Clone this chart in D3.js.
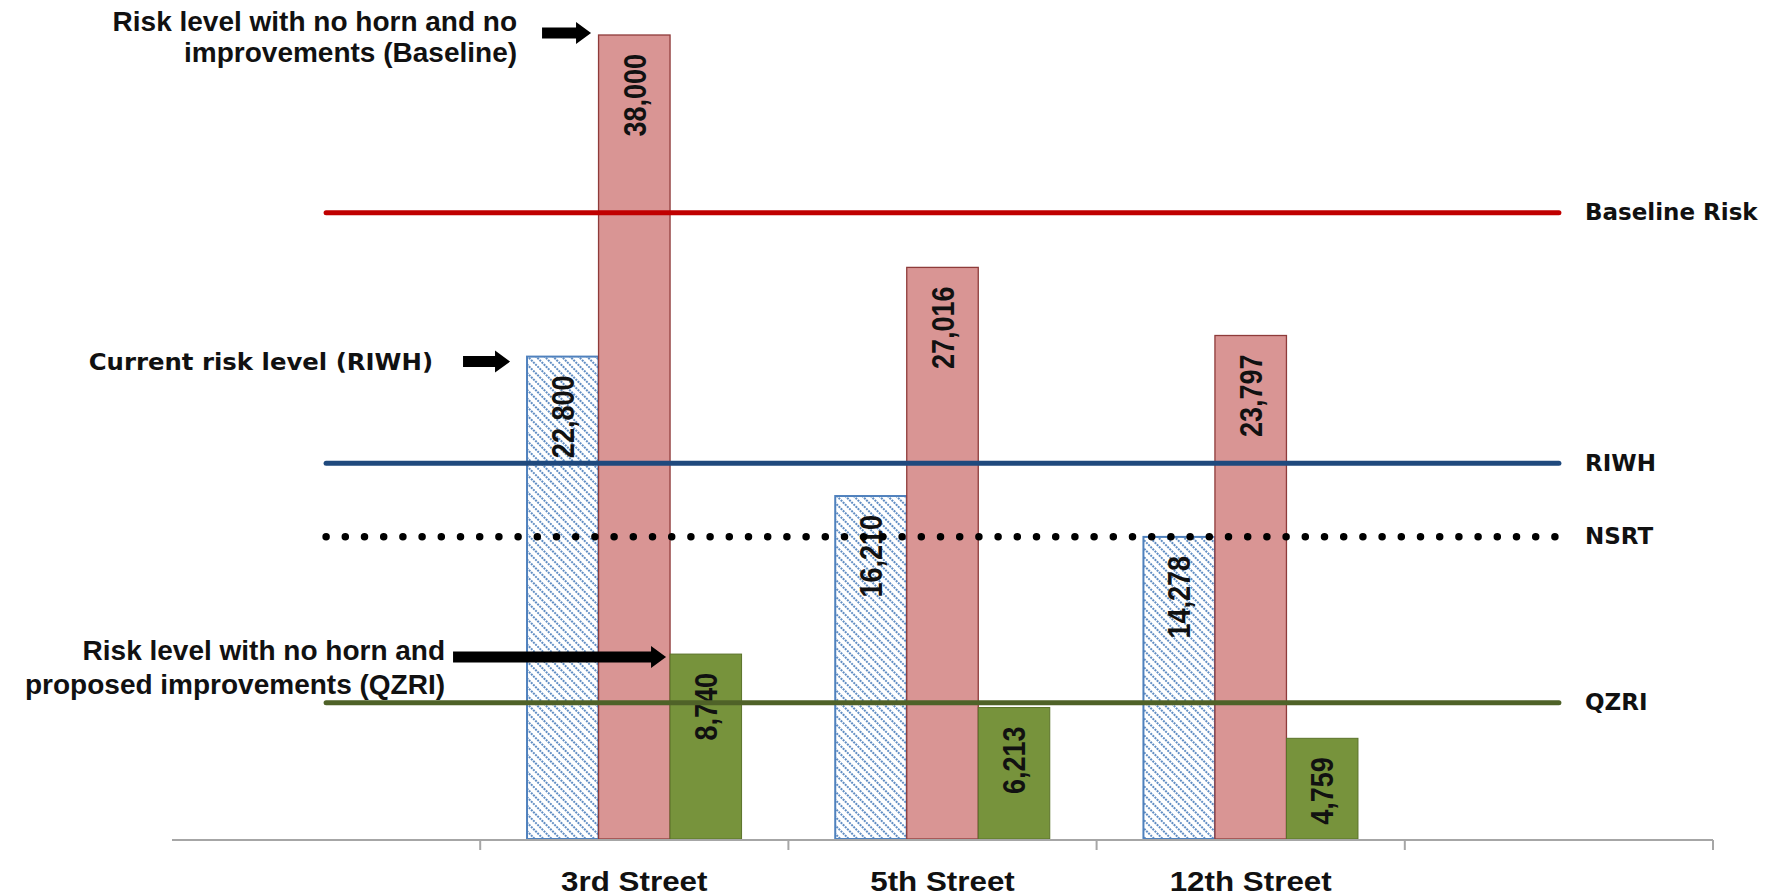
<!DOCTYPE html>
<html>
<head>
<meta charset="utf-8">
<script src="https://cdn.jsdelivr.net/npm/d3@7"></script>
<style>
  body { margin: 0; background: #fff; }
  .anno, .cat { font-family: "Liberation Sans", Arial, sans-serif; font-weight: bold; fill: #111; }
  .side { font-family: "DejaVu Sans", Verdana, sans-serif; font-weight: bold; fill: #111; }
  .val { font-family: "Liberation Sans", Arial, sans-serif; font-weight: bold; fill: #111; }
</style>
</head>
<body>
<div id="chart"></div>
<script>
// category slots; first and last are empty like in the sheet
const categories = ["", "3rd Street", "5th Street", "12th Street", ""];

// bar series (3rd, 5th, 12th street)
const riwhBars = [22800, 16210, 14278];
const baselineBars = [38000, 27016, 23797];
const qzriBars = [8740, 6213, 4759];

// reference lines, one value per category slot
const baselineRiskLine = [29600, 29600, 29600, 29600, 29600];
const riwhLine = [17760, 17760, 17760, 17760, 17760];
const nsrtLine = [14290, 14290, 14290, 14290, 14290];
const qzriLine = [6440, 6440, 6440, 6440, 6440];

const lineNames = ["Baseline Risk", "RIWH", "NSRT", "QZRI"];

const annoBaseline = ["Risk level with no horn and no", "improvements (Baseline)"];
const annoCurrent = ["Current risk level (RIWH)"];
const annoQzri = ["Risk level with no horn and", "proposed improvements (QZRI)"];

const W = 1767, H = 896;

const svg = d3.select("#chart").append("svg")
    .attr("width", W)
    .attr("height", H);

const defs = svg.append("defs");
const hatch = defs.append("pattern")
    .attr("id", "hatch")
    .attr("patternUnits", "userSpaceOnUse")
    .attr("width", 6)
    .attr("height", 6)
    .attr("patternTransform", "rotate(-45)");
hatch.append("rect").attr("width", 6).attr("height", 6).attr("fill", "#fff");
hatch.append("line")
    .attr("x1", 1).attr("y1", 0).attr("x2", 1).attr("y2", 6)
    .attr("stroke", "#4f81bd")
    .attr("stroke-width", 1.8)
    .attr("stroke-dasharray", "2,1");

// scales
const x0 = d3.scaleBand()
    .domain(d3.range(categories.length))
    .range([172, 1713])
    .padding(0);

const seriesKeys = ["riwh", "baseline", "qzri"];
const x1 = d3.scaleBand()
    .domain(seriesKeys)
    .range([0, x0.bandwidth()])
    .paddingInner(0)
    .paddingOuter(0.655);

const y = d3.scaleLinear()
    .domain([0, 38000])
    .range([839, 35]);

const seriesStyle = {
    riwh: {fill: "url(#hatch)", stroke: "#4f81bd", width: 2},
    baseline: {fill: "#d99594", stroke: "#8e3b3a", width: 1.3},
    qzri: {fill: "#77933c", stroke: "#5a7229", width: 1}
};
const seriesData = {riwh: riwhBars, baseline: baselineBars, qzri: qzriBars};

// bars
const rows = [];
[1, 2, 3].forEach((c, i) => {
    seriesKeys.forEach(k => rows.push({cat: c, key: k, value: seriesData[k][i]}));
});

svg.append("g").selectAll("rect")
    .data(rows)
    .enter()
    .append("rect")
    .attr("x", d => x0(d.cat) + x1(d.key))
    .attr("y", d => y(d.value))
    .attr("width", x1.bandwidth())
    .attr("height", d => y(0) - y(d.value))
    .attr("fill", d => seriesStyle[d.key].fill)
    .attr("stroke", d => seriesStyle[d.key].stroke)
    .attr("stroke-width", d => seriesStyle[d.key].width);

// value labels, rotated, inside the top of each bar
svg.append("g").selectAll("text")
    .data(rows)
    .enter()
    .append("text")
    .attr("class", "val")
    .attr("font-size", 27)
    .attr("text-anchor", "end")
    .attr("dy", "0.36em")
    .attr("transform", d => {
        let cx = x0(d.cat) + x1(d.key) + x1.bandwidth() / 2;
        return `translate(${cx},${y(d.value) + 19}) scale(1.16,1) rotate(-90)`;
    })
    .text(d => d3.format(",")(d.value));

// x axis
const axisG = svg.append("g")
    .attr("transform", `translate(0,${y(0) + 1})`);
axisG.append("line")
    .attr("x1", x0.range()[0]).attr("x2", x0.range()[1])
    .attr("stroke", "#a6a6a6").attr("stroke-width", 2);
axisG.selectAll(".tk")
    .data(d3.range(1, categories.length + 1))
    .enter()
    .append("line")
    .attr("x1", d => x0(0) + d * x0.step())
    .attr("x2", d => x0(0) + d * x0.step())
    .attr("y1", 0).attr("y2", 10)
    .attr("stroke", "#a6a6a6").attr("stroke-width", 2);
axisG.selectAll(".cat")
    .data(d3.range(categories.length))
    .enter()
    .append("text")
    .attr("class", "cat")
    .attr("font-size", 28)
    .attr("text-anchor", "middle")
    .attr("transform", d => `translate(${x0(d) + x0.bandwidth() / 2},51) scale(1.12,1)`)
    .text(d => categories[d]);

// reference lines
const lineDefs = [
    {name: lineNames[0], values: baselineRiskLine, color: "#c00000", width: 5, dash: null},
    {name: lineNames[1], values: riwhLine, color: "#1f497d", width: 5, dash: null},
    {name: lineNames[2], values: nsrtLine, color: "#000", width: 7.5, dash: "0,19.2"},
    {name: lineNames[3], values: qzriLine, color: "#4f6228", width: 5, dash: null}
];

const line = d3.line()
    .x((d, i) => x0(i) + x0.bandwidth() / 2)
    .y(d => y(d));

svg.append("g").selectAll("path")
    .data(lineDefs)
    .enter()
    .append("path")
    .attr("d", d => line(d.values))
    .attr("fill", "none")
    .attr("stroke", d => d.color)
    .attr("stroke-width", d => d.width)
    .attr("stroke-linecap", "round")
    .attr("stroke-dasharray", d => d.dash);

svg.append("g").selectAll("text")
    .data(lineDefs)
    .enter()
    .append("text")
    .attr("class", "side")
    .attr("font-size", 23)
    .attr("x", 1585)
    .attr("y", d => y(d.values[d.values.length - 1]))
    .attr("dy", "0.33em")
    .text(d => d.name);

// annotations with block arrows pointing at bars
function arrow(tx, ty, len) {
    let p = d3.path();
    p.moveTo(tx - len, ty - 5.5);
    p.lineTo(tx - 15, ty - 5.5);
    p.lineTo(tx - 15, ty - 11);
    p.lineTo(tx, ty);
    p.lineTo(tx - 15, ty + 11);
    p.lineTo(tx - 15, ty + 5.5);
    p.lineTo(tx - len, ty + 5.5);
    p.closePath();
    return p.toString();
}

const annos = [
    {text: annoBaseline, cat: 1, key: "baseline", dx: -7.5, dy: -2, len: 49, gap: 25, ty: -2, lh: 31, cls: "anno", fs: 28, sx: 1},
    {text: annoCurrent, cat: 1, key: "riwh", dx: -17, dy: 5, len: 47, gap: 30, ty: 8, lh: 0, cls: "side", fs: 23, sx: 1.06},
    {text: annoQzri, cat: 1, key: "qzri", dx: -4, dy: 3, len: 213, gap: 8, ty: 3, lh: 34, cls: "anno", fs: 28, sx: 1}
];

annos.forEach(a => {
    let idx = a.cat - 1;
    let tipX = x0(a.cat) + x1(a.key) + a.dx;
    let tipY = y(seriesData[a.key][idx]) + a.dy;
    svg.append("path")
        .attr("d", arrow(tipX, tipY, a.len))
        .attr("fill", "#000");
    let t = svg.append("text")
        .attr("class", a.cls)
        .attr("font-size", a.fs)
        .attr("text-anchor", "end")
        .attr("transform", `translate(${tipX - a.len - a.gap},${tipY}) scale(${a.sx},1)`);
    a.text.forEach((s, j) => {
        t.append("tspan")
            .attr("x", 0)
            .attr("y", a.ty + j * a.lh)
            .text(s);
    });
});
</script>
</body>
</html>
